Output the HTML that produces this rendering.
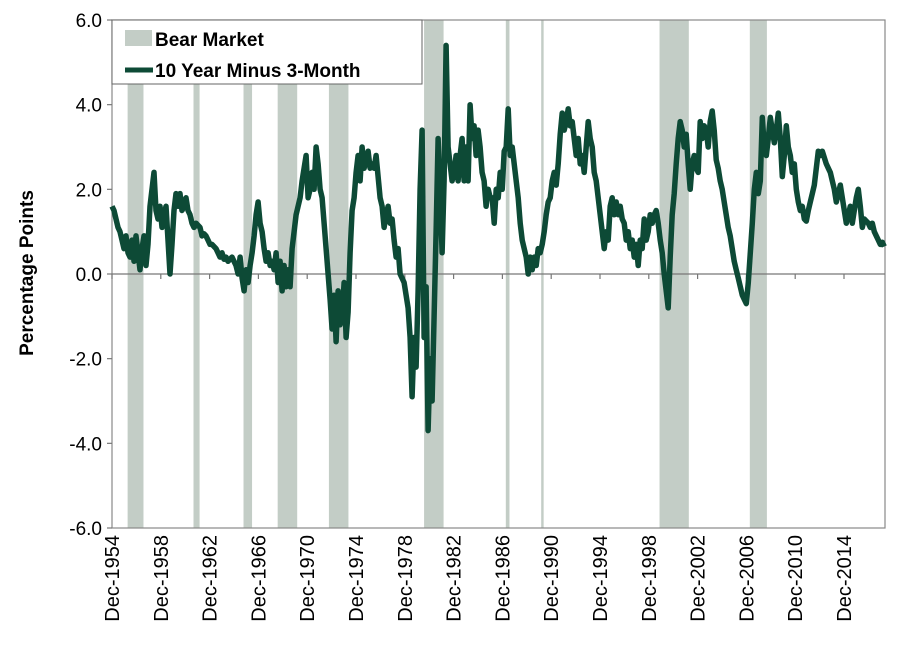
<!DOCTYPE html>
<html><head><meta charset="utf-8"><style>
html,body{margin:0;padding:0;background:#fff;}
svg{display:block;font-family:"Liberation Sans",Arial,sans-serif;}
</style></head><body>
<svg id="chart" width="900" height="653" viewBox="0 0 900 653">
<g id="bands"></g>
<g id="axes"></g>
<g id="series"></g>
<g>
<rect x="112" y="20" width="310" height="64" fill="#fff" stroke="#666" stroke-width="1"/>
<rect x="125" y="30" width="27" height="16" fill="#c3cdc6"/>
<text x="155" y="46" font-size="19" font-weight="bold" fill="#000">Bear Market</text>
<line x1="125" y1="70" x2="153" y2="70" stroke="#0d4a36" stroke-width="5"/>
<text x="155" y="77" font-size="19" font-weight="bold" fill="#000">10 Year Minus 3-Month</text>
</g>
<text transform="translate(33,273) rotate(-90)" text-anchor="middle" font-size="19" font-weight="bold">Percentage Points</text>
</svg>
<script>
const yTicks=[6,4,2,0,-2,-4,-6];
const yTickLabels=["6.0","4.0","2.0","0.0","-2.0","-4.0","-6.0"];
const xTickYears=[1954.92,1958.92,1962.92,1966.92,1970.92,1974.92,1978.92,1982.92,1986.92,1990.92,1994.92,1998.92,2002.92,2006.92,2010.92,2014.92];
const xTickLabels=["Dec-1954","Dec-1958","Dec-1962","Dec-1966","Dec-1970","Dec-1974","Dec-1978","Dec-1982","Dec-1986","Dec-1990","Dec-1994","Dec-1998","Dec-2002","Dec-2006","Dec-2010","Dec-2014"];
const bearStarts=[1956.2,1961.6,1965.7,1968.5,1972.7,1980.5,1987.2,1990.1,1999.8,2007.2];
const bearEnds=[1957.5,1962.1,1966.4,1970.1,1974.3,1982.1,1987.5,1990.3,2002.2,2008.6];
const startYear=1954.92;
const stepYears=0.164;
const spreadValues=[
1.6,1.5,1.3,1.1,1.0,0.8,0.6,0.9,0.5,0.4,0.8,0.3,0.9,0.5,0.1,0.6,0.9,0.2,0.7,1.6,
2.0,2.4,1.5,1.3,1.6,1.1,1.4,1.6,0.8,0.0,0.7,1.5,1.9,1.6,1.9,1.5,1.6,1.8,1.5,1.4,1.2,1.1,1.2,1.15,1.1,
0.9,0.95,0.9,0.8,0.7,0.7,0.65,0.6,0.5,0.4,0.5,0.35,0.4,0.3,0.35,0.4,0.3,0.2,0.0,0.4,-0.1,-0.4,0.1,-0.2,0.2,
0.5,0.9,1.4,1.7,1.2,1.0,0.6,0.3,0.5,0.2,0.3,0.1,0.5,-0.2,0.3,-0.4,0.2,-0.3,0.1,-0.3,0.6,1.0,1.4,1.6,1.8,
2.2,2.5,2.8,1.8,2.0,2.4,2.0,3.0,2.6,2.0,1.8,1.2,0.6,0.0,-0.6,-1.3,-0.5,-1.6,-0.4,-1.2,-1.0,-0.2,-1.5,-0.9,0.5,
1.5,1.8,2.4,2.8,2.2,3.0,2.5,2.7,2.9,2.5,2.6,2.5,2.8,2.3,1.8,1.6,1.1,1.4,1.6,1.2,1.3,0.8,0.4,0.6,0.0,
-0.1,-0.2,-0.5,-0.8,-1.5,-2.9,-1.5,-2.2,-0.4,2.0,3.4,-1.5,-0.3,-3.7,-2.0,-3.0,-1.0,1.0,3.2,2.0,0.5,2.2,5.4,3.0,2.6,
2.2,2.4,2.8,2.2,2.8,3.2,2.2,3.0,2.2,4.0,3.2,3.5,2.8,3.4,3.0,2.4,2.2,1.6,2.0,1.8,1.8,1.2,2.0,1.8,2.4,
2.0,2.9,3.0,3.9,2.8,3.0,2.6,2.2,1.8,1.2,0.8,0.6,0.4,0.0,0.4,0.1,0.4,0.2,0.6,0.5,0.7,1.0,1.4,1.7,1.8,
2.2,2.4,2.1,2.6,3.3,3.8,3.4,3.6,3.9,3.5,3.6,3.2,2.8,3.2,2.6,2.8,2.4,3.0,3.6,3.2,3.0,2.4,2.2,1.8,1.4,
1.0,0.6,1.0,0.8,1.6,1.8,1.4,1.7,1.4,1.6,1.3,1.2,0.8,1.0,0.6,0.8,0.4,0.7,0.2,0.8,0.6,1.3,0.8,1.0,1.4,
1.2,1.4,1.5,1.2,0.8,0.5,0.0,-0.4,-0.8,0.4,1.4,1.9,2.6,3.2,3.6,3.4,3.0,3.3,2.6,2.0,2.6,2.8,2.5,2.4,3.6,
3.2,3.5,3.4,3.0,3.6,3.85,3.4,2.7,2.5,2.2,2.0,1.7,1.4,1.1,0.9,0.6,0.3,0.1,-0.1,-0.3,-0.5,-0.6,-0.7,-0.2,0.5,
1.2,2.0,2.4,1.9,2.2,3.7,3.0,2.8,3.2,3.7,3.4,3.1,3.4,3.8,3.2,2.3,2.8,3.5,3.0,2.8,2.4,2.6,2.0,1.7,1.5,
1.6,1.3,1.25,1.5,1.7,1.9,2.1,2.5,2.9,2.8,2.9,2.75,2.6,2.5,2.4,2.2,2.0,1.7,1.9,2.1,1.8,1.5,1.2,1.4,1.6,
1.2,1.5,1.8,2.0,1.6,1.1,1.3,1.25,1.2,1.1,1.2,1.0,0.9,0.8,0.7,0.75,0.65
];
const NS="http://www.w3.org/2000/svg";
const L=112,R=885,T=20,B=528;
function xs(yr){return L+(yr-1954.92)*12.2;}
function ys(v){return T+(6-v)*(B-T)/12;}
function mk(tag,attrs,parent){const e=document.createElementNS(NS,tag);for(const k in attrs)e.setAttribute(k,attrs[k]);parent.appendChild(e);return e;}
const bands=document.getElementById('bands'),axes=document.getElementById('axes'),series=document.getElementById('series');
bearStarts.forEach((s,i)=>{
 const r=mk('rect',{x:xs(s),y:T,width:xs(bearEnds[i])-xs(s),height:B-T,fill:'#c3cdc6'},bands);
 
 
});
const frame=mk('rect',{x:L,y:T,width:R-L,height:B-T,fill:'none',stroke:'#888','stroke-width':1.2},axes);


const zl=mk('line',{x1:L,x2:R,y1:ys(0),y2:ys(0),stroke:'#777','stroke-width':1.2},axes);


yTicks.forEach((v,i)=>{
 const t=mk('line',{x1:L-5,x2:L,y1:ys(v),y2:ys(v),stroke:'#777','stroke-width':1.2},axes);
 
 
 const tx=mk('text',{x:L-10,y:ys(v)+7,'text-anchor':'end','font-size':19,fill:'#000'},axes);
 tx.textContent=yTickLabels[i];
 
 
});
xTickYears.forEach((yr,i)=>{
 const x=xs(yr);
 const t=mk('line',{x1:x,x2:x,y1:ys(0),y2:ys(0)+5,stroke:'#777','stroke-width':1.2},axes);
 
 
 const tx=mk('text',{transform:'translate('+(x+7)+','+(B+7)+') rotate(-90)','text-anchor':'end','font-size':20,fill:'#000'},axes);
 tx.textContent=xTickLabels[i];
 
 
});
const pts=spreadValues.map((v,i)=>xs(startYear+i*stepYears).toFixed(1)+','+ys(v).toFixed(1)).join(' ');
const pl=mk('polyline',{points:pts,fill:'none',stroke:'#0d4a36','stroke-width':5.5,'stroke-linejoin':'round'},series);


</script>
</body></html>
